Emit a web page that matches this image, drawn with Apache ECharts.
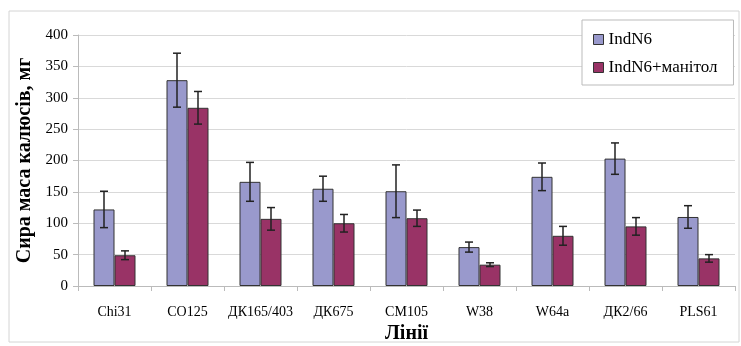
<!DOCTYPE html>
<html>
<head>
<meta charset="utf-8">
<script src="https://cdn.jsdelivr.net/npm/echarts@6/dist/echarts.min.js"></script>
<style>
  html, body { margin: 0; padding: 0; background: #fff; }
  #chart { width: 741px; height: 346px; }
</style>
</head>
<body>
<div id="chart"></div>
<script>
const lines = ["Chi31", "CO125", "ДК165/403", "ДК675", "CM105", "W38", "W64a", "ДК2/66", "PLS61"];
const indN6 = [122, 328, 166, 155, 151, 62, 174, 203, 110];
const indN6Err = [29, 43, 31, 20, 42, 8, 22, 25, 18];
const manitol = [49, 284, 107, 100, 108, 34, 80, 95, 44];
const manitolErr = [7, 26, 18, 14, 13, 3, 15, 14, 6];
const yTicks = [0, 50, 100, 150, 200, 250, 300, 350, 400];

const chart = echarts.init(document.getElementById("chart"));
const font = "'Liberation Serif', 'Times New Roman', serif";
const BAR_W = 21;

// error bars drawn over each bar, shifted left/right of the category centre
function errorSeries(name, values, errs, shift) {
    return {
        name: name,
        type: "custom",
        z: 5,
        silent: true,
        data: values.map((v, i) => [i, v - errs[i], v + errs[i]]),
        renderItem: (params, api) => {
            const lo = api.coord([api.value(0), api.value(1)]);
            const hi = api.coord([api.value(0), api.value(2)]);
            const x = lo[0] + shift;
            const cap = 4;
            const style = { stroke: "#222", lineWidth: 1.5 };
            return {
                type: "group",
                children: [
                    { type: "line", shape: { x1: x, y1: lo[1], x2: x, y2: hi[1] }, style: style },
                    { type: "line", shape: { x1: x - cap, y1: lo[1], x2: x + cap, y2: lo[1] }, style: style },
                    { type: "line", shape: { x1: x - cap, y1: hi[1], x2: x + cap, y2: hi[1] }, style: style }
                ]
            };
        }
    };
}

const options = {
    animation: false,
    textStyle: { fontFamily: font },
    graphic: [{
        type: "rect",
        shape: { x: 9, y: 11, width: 730, height: 331 },
        style: { fill: "none", stroke: "#d4d4d4", lineWidth: 1 },
        z: -1
    }],
    legend: {
        orient: "vertical",
        left: 582,
        top: 20,
        padding: [11, 16, 9, 11],
        itemGap: 11,
        itemWidth: 10,
        itemHeight: 10,
        icon: "rect",
        borderColor: "#bbb",
        borderWidth: 1,
        backgroundColor: "#fff",
        data: ["IndN6", "IndN6+манітол"],
        itemStyle: { borderColor: "#333", borderWidth: 1 },
        textStyle: { fontFamily: font, fontSize: 17, color: "#000" }
    },
    grid: { left: 78, right: 6, top: 35, bottom: 60, outerBoundsMode: "none" },
    xAxis: {
        type: "category",
        data: lines,
        name: "Лінії",
        nameLocation: "middle",
        nameGap: 38,
        nameTextStyle: { fontFamily: font, fontSize: 20, fontWeight: "bold", color: "#000" },
        axisLine: { lineStyle: { color: "#bbb" } },
        axisTick: { show: true, length: 5, lineStyle: { color: "#bbb" } },
        axisLabel: { interval: 0, fontFamily: font, fontSize: 14, color: "#000", margin: 19 }
    },
    yAxis: {
        type: "value",
        min: 0,
        max: 400,
        interval: 50,
        name: "Сира маса калюсів, мг",
        nameLocation: "middle",
        nameGap: 41,
        nameTextStyle: { fontFamily: font, fontSize: 20, fontWeight: "bold", color: "#000" },
        axisLine: { show: true, lineStyle: { color: "#bbb" } },
        axisTick: { show: true, length: 5, lineStyle: { color: "#bbb" } },
        axisLabel: {
            fontFamily: font, fontSize: 15, color: "#000", margin: 10,
            formatter: v => yTicks.includes(v) ? String(v) : ""
        },
        splitLine: { lineStyle: { color: "#d9d9d9" } }
    },
    series: [
        {
            name: "IndN6",
            type: "bar",
            data: indN6,
            barWidth: BAR_W,
            barGap: "0%",
            itemStyle: { color: "#9999cc", borderColor: "#333", borderWidth: 1 }
        },
        {
            name: "IndN6+манітол",
            type: "bar",
            data: manitol,
            barWidth: BAR_W,
            barGap: "0%",
            itemStyle: { color: "#993366", borderColor: "#333", borderWidth: 1 }
        },
        errorSeries("IndN6 err", indN6, indN6Err, -BAR_W / 2),
        errorSeries("manitol err", manitol, manitolErr, BAR_W / 2)
    ]
};

chart.setOption(options);
</script>
</body>
</html>
